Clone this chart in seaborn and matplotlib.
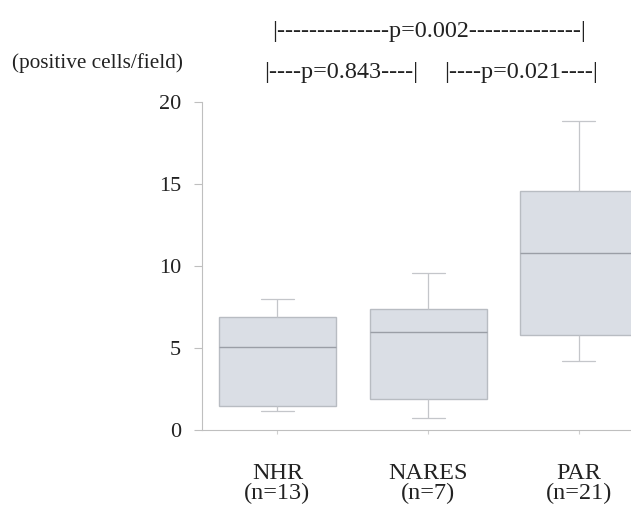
import numpy as np
import pandas as pd
import matplotlib
matplotlib.use("Agg")
import matplotlib.pyplot as plt
import seaborn as sns

# Five-number summaries (whisker low, Q1, median, Q3, whisker high)
groups = ["NHR", "NARES", "PAR"]
group_labels = ["NHR\n(n=13)", "NARES\n(n=7)", "PAR\n(n=21)"]
nhr_vals = [1.15, 1.45, 5.05, 6.9, 8.0]
nares_vals = [0.75, 1.9, 5.95, 7.4, 9.6]
par_vals = [4.2, 5.8, 10.8, 14.55, 18.85]
y_ticks = [0, 5, 10, 15, 20]
p_texts = ["|--------------p=0.002--------------|",
           "|----p=0.843----|",
           "|----p=0.021----|"]
y_label = "(positive cells/field)"

sns.set_style("ticks")
plt.rcParams["font.family"] = ["Liberation Serif", "DejaVu Serif"]

df = pd.DataFrame({
    "group": ["NHR"] * len(nhr_vals) + ["NARES"] * len(nares_vals) + ["PAR"] * len(par_vals),
    "value": nhr_vals + nares_vals + par_vals,
})

W, H = 631, 513
fig = plt.figure(figsize=(W / 100, H / 100), dpi=100)
ax = fig.add_axes([202 / W, 1 - 430 / H, (W - 202) / W, (430 - 102) / H])

sns.boxplot(data=df, x="group", y="value", order=groups, ax=ax,
            width=0.775, whis=np.inf, color="#dadee5", saturation=1,
            linecolor="#b8bcc2", linewidth=1.0, showfliers=False,
            medianprops=dict(color="#9a9ea6", linewidth=1.0),
            whiskerprops=dict(color="#c4c6ca", linewidth=0.9),
            capprops=dict(color="#c4c6ca", linewidth=0.9),
            capwidths=0.22)

ax.set_xlim(-0.5, 2.346)
ax.set_ylim(0, 20)
ax.set_yticks(y_ticks)
ax.set_yticklabels([str(t) for t in y_ticks], fontsize=16, color="#222222")
ax.set_xticks(range(len(groups)))
ax.set_xticklabels(group_labels, fontsize=17.5, color="#222222", linespacing=0.92)
ax.set_xlabel("")
ax.set_ylabel("")
for s in ["top", "right"]:
    ax.spines[s].set_visible(False)
for s in ["left", "bottom"]:
    ax.spines[s].set_color("#bfbfbf")
    ax.spines[s].set_linewidth(0.8)
ax.tick_params(axis="y", length=6, width=0.8, color="#bfbfbf", pad=9)
ax.tick_params(axis="x", length=3, width=0.8, color="#cfcfcf", pad=21)

fig.text(12 / W, 1 - 68 / H, y_label, fontsize=15.3, color="#222222",
         ha="left", va="baseline")
fig.text(429.5 / W, 1 - 36.5 / H, p_texts[0], fontsize=17.4, color="#222222",
         ha="center", va="baseline")
fig.text(341.5 / W, 1 - 78.3 / H, p_texts[1], fontsize=17.4, color="#222222",
         ha="center", va="baseline")
fig.text(521.5 / W, 1 - 78.3 / H, p_texts[2], fontsize=17.4, color="#222222",
         ha="center", va="baseline")

fig.savefig("out.png", dpi=100, facecolor="white")
